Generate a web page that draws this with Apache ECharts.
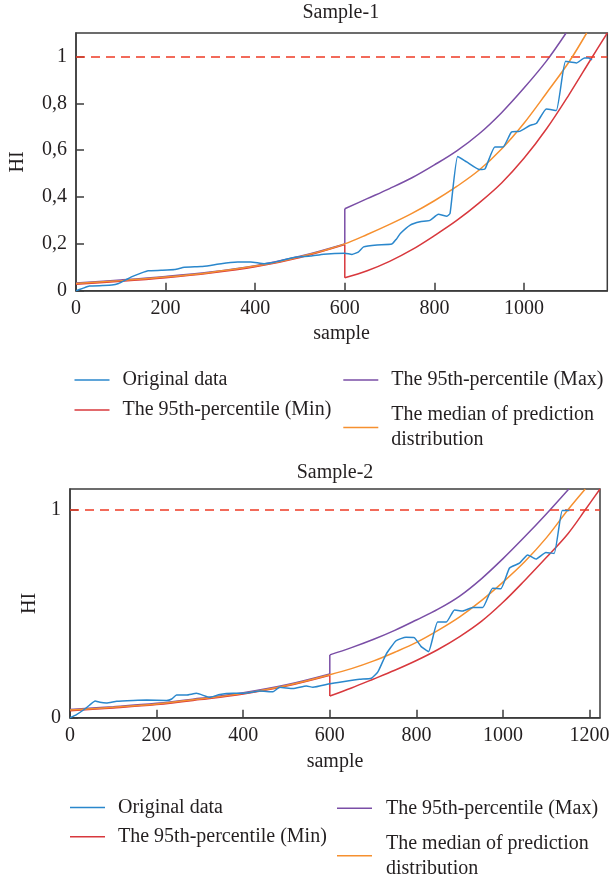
<!DOCTYPE html>
<html>
<head>
<meta charset="utf-8">
<script src="https://cdn.jsdelivr.net/npm/echarts@6/dist/echarts.min.js"></script>
<style>
  html, body { margin: 0; padding: 0; background: #fff; }
  #chart { width: 616px; height: 883px; }
</style>
</head>
<body>
<div id="chart"></div>
<script>
// Sample-1 : [sample, HI]
var s1Original = [[0,0],[15,0.01],[30,0.02],[60,0.022],[80,0.024],[95,0.031],[110,0.045],[125,0.06],[145,0.075],[161,0.085],[190,0.087],[220,0.09],[242,0.1],[279,0.103],[300,0.108],[324,0.115],[361,0.122],[390,0.123],[420,0.115],[440,0.12],[457,0.128],[487,0.142],[524,0.148],[553,0.156],[600,0.16],[616,0.155],[630,0.165],[642,0.187],[672,0.195],[705,0.199],[715,0.22],[724,0.244],[746,0.28],[768,0.294],[790,0.3],[809,0.326],[828,0.318],[835,0.33],[852,0.573],[872,0.55],[901,0.517],[913,0.52],[935,0.613],[953,0.613],[972,0.677],[990,0.68],[1013,0.705],[1028,0.715],[1050,0.776],[1072,0.769],[1093,0.979],[1117,0.972],[1135,0.993],[1144,0.993],[1152,0.985]];
var s1Min = [[0,0.028],[100,0.04],[200,0.055],[300,0.075],[400,0.102],[500,0.142],[600,0.197],[600,0.055],[650,0.085],[700,0.125],[750,0.175],[800,0.235],[850,0.3],[900,0.375],[950,0.46],[1000,0.565],[1050,0.69],[1100,0.835],[1150,0.99],[1186,1.1]];
var s1Max = [[0,0.033],[100,0.046],[200,0.061],[300,0.08],[400,0.107],[500,0.147],[600,0.2],[600,0.35],[650,0.393],[700,0.436],[750,0.482],[800,0.537],[850,0.597],[900,0.67],[950,0.76],[1000,0.865],[1050,0.98],[1094,1.1]];
var s1Median = [[0,0.031],[100,0.043],[200,0.058],[300,0.078],[400,0.105],[450,0.122],[500,0.145],[550,0.17],[600,0.2],[650,0.24],[700,0.283],[750,0.33],[800,0.384],[850,0.445],[900,0.515],[950,0.605],[1000,0.715],[1050,0.843],[1100,0.975],[1140,1.1]];

// Sample-2 : [sample, HI]
var s2Original = [[0,0],[15,0.015],[31,0.037],[45,0.06],[58,0.08],[69,0.074],[84,0.071],[108,0.079],[146,0.083],[177,0.085],[223,0.083],[235,0.09],[246,0.109],[269,0.109],[292,0.117],[323,0.098],[346,0.112],[377,0.117],[400,0.117],[438,0.128],[469,0.125],[484,0.146],[515,0.14],[546,0.153],[561,0.146],[600,0.163],[630,0.173],[669,0.185],[696,0.19],[711,0.22],[730,0.305],[753,0.37],[776,0.387],[795,0.385],[811,0.342],[828,0.318],[849,0.46],[869,0.46],[888,0.518],[907,0.513],[930,0.53],[953,0.53],[976,0.623],[995,0.62],[1015,0.72],[1038,0.743],[1057,0.783],[1076,0.763],[1099,0.795],[1118,0.79],[1137,0.997],[1153,0.997]];
var s2Min = [[0,0.034],[100,0.047],[200,0.063],[300,0.087],[400,0.114],[500,0.152],[600,0.204],[600,0.104],[650,0.143],[700,0.185],[750,0.228],[800,0.275],[850,0.328],[900,0.39],[950,0.463],[1000,0.555],[1050,0.66],[1100,0.77],[1150,0.885],[1190,1.0],[1224,1.1]];
var s2Max = [[0,0.04],[100,0.053],[200,0.069],[300,0.093],[400,0.12],[500,0.158],[600,0.21],[600,0.302],[650,0.337],[700,0.376],[750,0.42],[800,0.47],[850,0.522],[900,0.585],[950,0.668],[1000,0.765],[1050,0.87],[1100,0.98],[1152,1.1]];
var s2Median = [[0,0.037],[100,0.05],[200,0.066],[300,0.09],[400,0.117],[500,0.155],[600,0.207],[650,0.236],[700,0.272],[750,0.315],[800,0.362],[850,0.42],[900,0.485],[950,0.563],[1000,0.652],[1050,0.75],[1100,0.865],[1150,1.0],[1190,1.1]];

var names = ['Original data', 'The 95th-percentile (Min)', 'The 95th-percentile (Max)', 'The median of prediction\ndistribution'];
var colors = ['#2a87cc', '#d8383d', '#7a4ea6', '#f6902f'];

var FONT = 'Liberation Serif';
var TXT = '#231f20';

var myChart = echarts.init(document.getElementById('chart'), null, { renderer: 'canvas' });

function yFmt(v) {
	if (v === 0) return '0';
	if (Math.abs(v - 1) < 1e-9) return '1';
	return v.toFixed(1).replace('.', ',');
}

function xAxis(idx, max, gap) {
	return {
		type: 'value', gridIndex: idx, min: 0, max: max, interval: 200,
		name: 'sample', nameLocation: 'middle', nameGap: gap,
		nameTextStyle: { fontFamily: FONT, fontSize: 20, color: TXT },
		axisLine: { show: true, lineStyle: { color: '#3c3c3c', width: 1.5 } },
		axisTick: { show: true, inside: true, length: 8, lineStyle: { color: '#3c3c3c', width: 1.5 } },
		axisLabel: { margin: 8, fontFamily: FONT, fontSize: 20, color: TXT, showMaxLabel: false,
			formatter: function (v) { return String(v); } },
		splitLine: { show: false }
	};
}

function yAxis(idx, interval, gap) {
	return {
		type: 'value', gridIndex: idx, min: 0, max: 1.1, interval: interval,
		name: 'HI', nameLocation: 'middle', nameGap: gap,
		nameTextStyle: { fontFamily: FONT, fontSize: 20, color: TXT },
		axisLine: { show: true, lineStyle: { color: '#3c3c3c', width: 1.5 } },
		axisTick: { show: true, inside: true, length: 8, lineStyle: { color: '#3c3c3c', width: 1.5 } },
		axisLabel: { margin: 9, fontFamily: FONT, fontSize: 20, color: TXT, showMaxLabel: false, formatter: yFmt },
		splitLine: { show: false }
	};
}

function baseLine(idx, i, data, smooth) {
	return {
		name: names[i], type: 'line', xAxisIndex: idx, yAxisIndex: idx,
		data: data, showSymbol: false, symbol: 'none', clip: true,
		smooth: smooth, color: colors[i],
		lineStyle: { color: colors[i], width: 1.5 },
		z: i === 0 ? 6 : 2 + i
	};
}

// bands jump at the repeated sample (600): smooth before, straight jump, smooth after
function bandLines(idx, i, data) {
	var k = 1;
	while (k < data.length && data[k][0] !== data[k - 1][0]) k++;
	if (k >= data.length) return [baseLine(idx, i, data, 0.35)];
	return [
		baseLine(idx, i, data.slice(0, k), 0.35),
		baseLine(idx, i, data.slice(k - 1, k + 1), false),
		baseLine(idx, i, data.slice(k), 0.35)
	];
}

function lines(idx, sets) {
	var orig = baseLine(idx, 0, sets[0], 0.15);
	orig.markLine = {
		silent: true, symbol: 'none', animation: false,
		label: { show: false },
		lineStyle: { color: '#ee3a24', width: 1.5, type: [9, 6] },
		data: [{ yAxis: 1 }]
	};
	var out = [orig];
	for (var i = 1; i < 4; i++) out = out.concat(bandLines(idx, i, sets[i]));
	return out;
}

function leg(name, left, top, pad) {
	return {
		data: [name], left: left, top: top, padding: 0, orient: 'vertical',
		selectedMode: false, icon: 'rect', itemWidth: 35, itemHeight: 1.5,
		textStyle: { fontFamily: FONT, fontSize: 20, color: TXT, lineHeight: 25, padding: [0, 0, 0, pad] }
	};
}

var option = {
	animation: false,
	backgroundColor: '#fff',
	title: [
		{ text: 'Sample-1', left: 340.8, top: 1, textAlign: 'center', padding: 0,
		  textStyle: { fontFamily: FONT, fontSize: 20, fontWeight: 'normal', color: TXT, lineHeight: 24 } },
		{ text: 'Sample-2', left: 335, top: 461, textAlign: 'center', padding: 0,
		  textStyle: { fontFamily: FONT, fontSize: 20, fontWeight: 'normal', color: TXT, lineHeight: 24 } }
	],
	grid: [
		{ left: 74.3, top: 33, width: 533, height: 257.7, show: true, borderColor: '#3c3c3c', borderWidth: 1.5, backgroundColor: 'transparent' },
		{ left: 70, top: 489, width: 530, height: 228.7, show: true, borderColor: '#3c3c3c', borderWidth: 1.5, backgroundColor: 'transparent' }
	],
	xAxis: [xAxis(0, 1186, 33), xAxis(1, 1224, 34)],
	yAxis: [yAxis(0, 0.2, 48), yAxis(1, 1, 28)],
	legend: [
		leg(names[0], 74.5, 367.5, 8),
		leg(names[1], 74.5, 397.5, 8),
		leg(names[2], 343.3, 367.5, 8),
		leg(names[3], 343.3, 402.5, 8),
		leg(names[0], 70, 795, 8),
		leg(names[1], 70, 824.2, 8),
		leg(names[2], 337, 795.8, 9),
		leg(names[3], 337, 830.8, 9)
	],
	series: lines(0, [s1Original, s1Min, s1Max, s1Median]).concat(lines(1, [s2Original, s2Min, s2Max, s2Median]))
};

myChart.setOption(option);
</script>
</body>
</html>
